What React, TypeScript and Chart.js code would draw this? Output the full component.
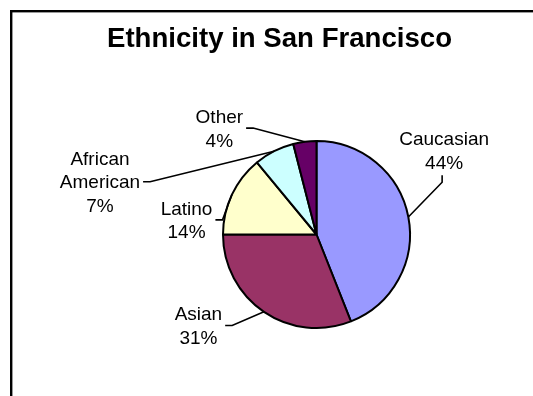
import React, { useEffect, useRef } from 'react';
import { Chart, registerables } from 'chart.js';

Chart.register(...registerables);

const TITLE = 'Ethnicity in San Francisco';
const categories = ['Caucasian', 'Asian', 'Latino', 'African American', 'Other'];
const values = [44, 31, 14, 7, 4];
const colors = ['#9999FF', '#993366', '#FFFFCC', '#CCFFFF', '#660066'];
// label placement relative to pie centre, in units of the pie radius
const labelOffsetX = [1.365, -1.263, -1.39, -2.316, -1.039];
const labelOffsetY = [-0.901, 0.973, -0.156, -0.564, -1.138];

const FONT = '"Liberation Sans", Arial, Helvetica, sans-serif';
const LABEL_SIZE = 19;
const LINE_H = 23.5;
const CAP = 13.4;

const framePlugin = {
  id: 'frame',
  beforeDraw(chart: any) {
    const ctx = chart.ctx;
    ctx.save();
    ctx.fillStyle = '#ffffff';
    ctx.fillRect(0, 0, chart.width, chart.height);
    ctx.strokeStyle = '#000000';
    ctx.lineWidth = 2.4;
    ctx.strokeRect(11.2, 11.2, chart.width + 40, chart.height + 40);
    ctx.fillStyle = '#000000';
    ctx.font = `bold 27.6px ${FONT}`;
    ctx.textAlign = 'center';
    ctx.textBaseline = 'alphabetic';
    ctx.fillText(TITLE, 279.5, 46.5);
    ctx.restore();
  },
};

const labelPlugin = {
  id: 'sliceLabels',
  afterDatasetsDraw(chart: any) {
    const ctx = chart.ctx;
    const meta = chart.getDatasetMeta(0);
    const total = values.reduce((a, b) => a + b, 0);
    ctx.save();
    ctx.font = `${LABEL_SIZE}px ${FONT}`;
    ctx.fillStyle = '#000000';
    ctx.strokeStyle = '#000000';
    ctx.lineWidth = 1.6;
    ctx.textAlign = 'center';
    ctx.textBaseline = 'alphabetic';
    meta.data.forEach((arc: any, i: number) => {
      const { x, y, startAngle, endAngle, outerRadius } = arc.getProps(
        ['x', 'y', 'startAngle', 'endAngle', 'outerRadius'],
        true
      );
      const mid = (startAngle + endAngle) / 2;
      const ax = x + Math.cos(mid) * outerRadius;
      const ay = y + Math.sin(mid) * outerRadius;
      const pct = Math.round((values[i] / total) * 100) + '%';
      const lines = [...categories[i].split(' '), pct];
      const cx = x + labelOffsetX[i] * outerRadius;
      const cy = y + labelOffsetY[i] * outerRadius;
      const n = lines.length;
      const maxW = Math.max(...lines.map((l) => ctx.measureText(l).width));
      lines.forEach((l, k) => {
        ctx.fillText(l, cx, cy + (k - (n - 1) / 2) * LINE_H + CAP / 2);
      });
      ctx.beginPath();
      if (cx < x) {
        const sx = cx + maxW / 2 + 3;
        ctx.moveTo(sx, cy);
        ctx.lineTo(sx + 7, cy);
        ctx.lineTo(ax, ay);
      } else {
        const sy = cy + ((n - 1) / 2) * LINE_H + CAP / 2 + 6.5;
        ctx.moveTo(cx - 2, sy);
        ctx.lineTo(cx - 2, sy + 7);
        ctx.lineTo(ax, ay);
      }
      ctx.stroke();
    });
    ctx.restore();
  },
};

export default function App() {
  const canvasRef = useRef<HTMLCanvasElement | null>(null);

  useEffect(() => {
    if (!canvasRef.current) return;
    const chart = new Chart(canvasRef.current, {
      type: 'pie',
      data: {
        labels: categories,
        datasets: [
          {
            data: values,
            backgroundColor: colors,
            borderColor: '#000000',
            borderWidth: 2,
          },
        ],
      },
      options: {
        responsive: false,
        maintainAspectRatio: false,
        animation: false,
        layout: { padding: { left: 222, right: 122, top: 140, bottom: 67 } },
        plugins: {
          legend: { display: false },
          tooltip: { enabled: false },
          title: { display: false },
        },
      },
      plugins: [framePlugin, labelPlugin],
    });
    return () => chart.destroy();
  }, []);

  return (
    <div
      style={{
        position: 'fixed',
        left: 0,
        top: 0,
        width: 533,
        height: 396,
        overflow: 'hidden',
        background: '#ffffff',
      }}
    >
      <canvas ref={canvasRef} width={533} height={396} style={{ display: 'block' }} />
    </div>
  );
}
